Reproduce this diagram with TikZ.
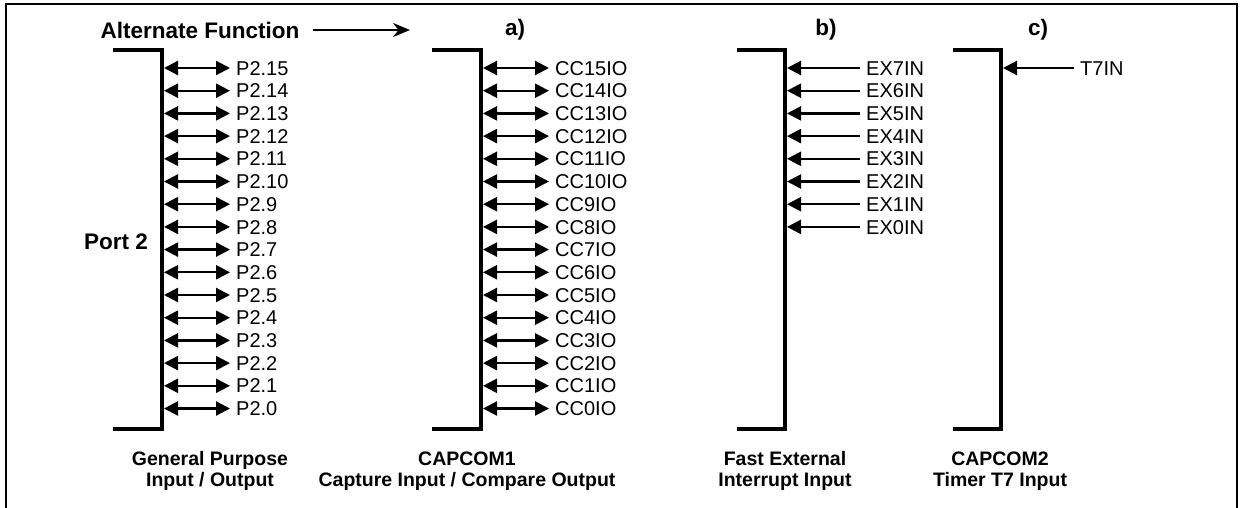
\documentclass[tikz,border=0pt]{standalone}
\usepackage{fontspec}
\setmainfont{Liberation Sans}
\usetikzlibrary{arrows.meta,positioning}
\tikzset{
    pinlabel/.style = {text width=80pt, text height=14.3pt, text depth=0pt, inner xsep=6pt, inner ysep=0pt, font=\fontsize{20}{20}\selectfont},
    title/.style = {font=\bfseries\fontsize{22.5}{22.5}\selectfont},
    caption/.style = {align=center, font=\bfseries\fontsize{19.5}{21}\selectfont},
    bracket/.style = {line width=4.5pt},
    border/.style = {line width=2pt},
    bidir/.style = {line width=2.3pt, {Triangle[length=14pt,width=14pt]}-{Triangle[length=14pt,width=14pt]}},
    inarrow/.style = {line width=2.3pt, {Triangle[length=14pt,width=14pt]}-},
    arrow/.style = {line width=2.3pt, -{Stealth[length=17pt,width=14pt]}}
}
\begin{document}
\begin{tikzpicture}[x=1pt, y=-1pt, node distance=22.7pt]
\useasboundingbox (0,0) rectangle (1243,507);
\draw [border] (6,510) -- (6,4) -- (1237,4) -- (1237,510);

% headings
\node (alt) [title] at (200,30) {Alternate Function};
\coordinate (altend) at (410,30);
\draw [arrow, shorten <=10pt] (alt.east) -- (altend);
\node (heada) [title] at (515,30) {a)};
\node (headb) [title] at (826,30) {b)};
\node (headc) [title] at (1038,30) {c)};
\node (port) [title] at (116,242) {Port 2};

% brackets
\draw [bracket] (113,50) -| (162,429) -- (113,429);
\draw [bracket] (432,50) -| (481,429) -- (432,429);
\draw [bracket] (737,50) -| (785,429) -- (737,429);
\draw [bracket] (953,50) -| (1001,429) -- (953,429);
\coordinate (gpiobar) at (164,0);
\coordinate (ccbar) at (483,0);
\coordinate (exbar) at (787,0);
\coordinate (t7bar) at (1003,0);

% port 2 pins
\node (p15) [pinlabel, anchor=west] at (230,68) {P2.15};
\node (p14) [pinlabel, below of=p15] {P2.14};
\node (p13) [pinlabel, below of=p14] {P2.13};
\node (p12) [pinlabel, below of=p13] {P2.12};
\node (p11) [pinlabel, below of=p12] {P2.11};
\node (p10) [pinlabel, below of=p11] {P2.10};
\node (p9) [pinlabel, below of=p10] {P2.9};
\node (p8) [pinlabel, below of=p9] {P2.8};
\node (p7) [pinlabel, below of=p8] {P2.7};
\node (p6) [pinlabel, below of=p7] {P2.6};
\node (p5) [pinlabel, below of=p6] {P2.5};
\node (p4) [pinlabel, below of=p5] {P2.4};
\node (p3) [pinlabel, below of=p4] {P2.3};
\node (p2) [pinlabel, below of=p3] {P2.2};
\node (p1) [pinlabel, below of=p2] {P2.1};
\node (p0) [pinlabel, below of=p1] {P2.0};

\draw [bidir] (p15.west -| gpiobar) -- (p15.west);
\draw [bidir] (p14.west -| gpiobar) -- (p14.west);
\draw [bidir] (p13.west -| gpiobar) -- (p13.west);
\draw [bidir] (p12.west -| gpiobar) -- (p12.west);
\draw [bidir] (p11.west -| gpiobar) -- (p11.west);
\draw [bidir] (p10.west -| gpiobar) -- (p10.west);
\draw [bidir] (p9.west -| gpiobar) -- (p9.west);
\draw [bidir] (p8.west -| gpiobar) -- (p8.west);
\draw [bidir] (p7.west -| gpiobar) -- (p7.west);
\draw [bidir] (p6.west -| gpiobar) -- (p6.west);
\draw [bidir] (p5.west -| gpiobar) -- (p5.west);
\draw [bidir] (p4.west -| gpiobar) -- (p4.west);
\draw [bidir] (p3.west -| gpiobar) -- (p3.west);
\draw [bidir] (p2.west -| gpiobar) -- (p2.west);
\draw [bidir] (p1.west -| gpiobar) -- (p1.west);
\draw [bidir] (p0.west -| gpiobar) -- (p0.west);

% capcom1 pins
\node (cc15) [pinlabel, anchor=west] at (549,68) {CC15IO};
\node (cc14) [pinlabel, below of=cc15] {CC14IO};
\node (cc13) [pinlabel, below of=cc14] {CC13IO};
\node (cc12) [pinlabel, below of=cc13] {CC12IO};
\node (cc11) [pinlabel, below of=cc12] {CC11IO};
\node (cc10) [pinlabel, below of=cc11] {CC10IO};
\node (cc9) [pinlabel, below of=cc10] {CC9IO};
\node (cc8) [pinlabel, below of=cc9] {CC8IO};
\node (cc7) [pinlabel, below of=cc8] {CC7IO};
\node (cc6) [pinlabel, below of=cc7] {CC6IO};
\node (cc5) [pinlabel, below of=cc6] {CC5IO};
\node (cc4) [pinlabel, below of=cc5] {CC4IO};
\node (cc3) [pinlabel, below of=cc4] {CC3IO};
\node (cc2) [pinlabel, below of=cc3] {CC2IO};
\node (cc1) [pinlabel, below of=cc2] {CC1IO};
\node (cc0) [pinlabel, below of=cc1] {CC0IO};

\draw [bidir] (cc15.west -| ccbar) -- (cc15.west);
\draw [bidir] (cc14.west -| ccbar) -- (cc14.west);
\draw [bidir] (cc13.west -| ccbar) -- (cc13.west);
\draw [bidir] (cc12.west -| ccbar) -- (cc12.west);
\draw [bidir] (cc11.west -| ccbar) -- (cc11.west);
\draw [bidir] (cc10.west -| ccbar) -- (cc10.west);
\draw [bidir] (cc9.west -| ccbar) -- (cc9.west);
\draw [bidir] (cc8.west -| ccbar) -- (cc8.west);
\draw [bidir] (cc7.west -| ccbar) -- (cc7.west);
\draw [bidir] (cc6.west -| ccbar) -- (cc6.west);
\draw [bidir] (cc5.west -| ccbar) -- (cc5.west);
\draw [bidir] (cc4.west -| ccbar) -- (cc4.west);
\draw [bidir] (cc3.west -| ccbar) -- (cc3.west);
\draw [bidir] (cc2.west -| ccbar) -- (cc2.west);
\draw [bidir] (cc1.west -| ccbar) -- (cc1.west);
\draw [bidir] (cc0.west -| ccbar) -- (cc0.west);

% external interrupt inputs
\node (ex7) [pinlabel, anchor=west] at (860,68) {EX7IN};
\node (ex6) [pinlabel, below of=ex7] {EX6IN};
\node (ex5) [pinlabel, below of=ex6] {EX5IN};
\node (ex4) [pinlabel, below of=ex5] {EX4IN};
\node (ex3) [pinlabel, below of=ex4] {EX3IN};
\node (ex2) [pinlabel, below of=ex3] {EX2IN};
\node (ex1) [pinlabel, below of=ex2] {EX1IN};
\node (ex0) [pinlabel, below of=ex1] {EX0IN};

\draw [inarrow] (ex7.west -| exbar) -- (ex7.west);
\draw [inarrow] (ex6.west -| exbar) -- (ex6.west);
\draw [inarrow] (ex5.west -| exbar) -- (ex5.west);
\draw [inarrow] (ex4.west -| exbar) -- (ex4.west);
\draw [inarrow] (ex3.west -| exbar) -- (ex3.west);
\draw [inarrow] (ex2.west -| exbar) -- (ex2.west);
\draw [inarrow] (ex1.west -| exbar) -- (ex1.west);
\draw [inarrow] (ex0.west -| exbar) -- (ex0.west);

% timer T7 input
\node (t7) [pinlabel, anchor=west] at (1074,68) {T7IN};
\draw [inarrow] (t7.west -| t7bar) -- (t7.west);

% captions
\node (gpio) [caption] at (210,471) {General Purpose\\Input / Output};
\node (capcom1) [caption] at (467,471) {CAPCOM1\\Capture Input / Compare Output};
\node (fastext) [caption] at (785,471) {Fast External\\Interrupt Input};
\node (capcom2) [caption] at (1000,471) {CAPCOM2\\Timer T7 Input};
\end{tikzpicture}
\end{document}
